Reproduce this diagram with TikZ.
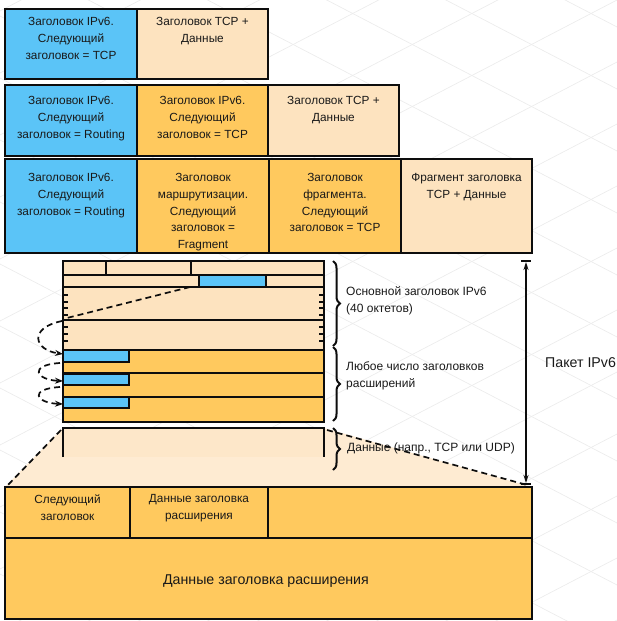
\documentclass[tikz,border=0pt]{standalone}
\usepackage{fontspec}
\setmainfont{Liberation Sans}
\usetikzlibrary{arrows.meta,decorations.pathreplacing}
\definecolor{blueC}{RGB}{91,196,247}
\definecolor{orangeC}{RGB}{255,201,94}
\definecolor{peachC}{RGB}{253,227,191}
\definecolor{txtC}{RGB}{25,25,25}
\definecolor{gridC}{RGB}{236,236,236}
\tikzset{
  cellbox/.style={draw=black!95,line width=1.8},
  thinbox/.style={draw=black!95,line width=1.4},
  celltext/.style={anchor=north,align=center,inner sep=0,text=txtC,font=\fontsize{11.8}{16.8}\selectfont},
  sidetext/.style={anchor=north west,align=left,inner sep=0,text=txtC,font=\fontsize{12}{16.5}\selectfont},
  bigtext/.style={inner sep=0,text=txtC,font=\fontsize{14.2}{17}\selectfont},
  dashline/.style={black!95,line width=1.7,dash pattern=on 6pt off 4pt},
  curvearrow/.style={dashline,-{Stealth[length=8pt,width=6pt]}},
  bracestyle/.style={black!95,line width=2,decorate,decoration={brace,amplitude=7pt}},
  tickline/.style={black!95,line width=1.3}
}
\begin{document}
\begin{tikzpicture}[x=1pt,y=-1pt]
\useasboundingbox (0,0) rectangle (617,621);
% faint background grid
\begin{scope}
\clip (0,0) rectangle (617,621);
\foreach \k in {-6,...,16}{
  \draw[gridC,line width=0.7] (0,-170+62*\k) -- (617,151+62*\k);
  \draw[gridC,line width=0.7] (0,321+62*\k) -- (617,0+62*\k);
}
\end{scope}
% ---------- row 1
\draw[cellbox,fill=blueC] (5,9) rectangle (137,79);
\draw[cellbox,fill=peachC] (137,9) rectangle (268,79);
\node[celltext] (r1a) at (71,17) {Заголовок IPv6.\\Следующий\\заголовок = TCP};
\node[celltext] (r1b) at (202.5,17) {Заголовок TCP +\\Данные};
% ---------- row 2
\draw[cellbox,fill=blueC] (5,85) rectangle (137,156);
\draw[cellbox,fill=orangeC] (137,85) rectangle (268,156);
\draw[cellbox,fill=peachC] (268,85) rectangle (399,156);
\node[celltext] (r2a) at (71,96) {Заголовок IPv6.\\Следующий\\заголовок = Routing};
\node[celltext] (r2b) at (202.5,96) {Заголовок IPv6.\\Следующий\\заголовок = TCP};
\node[celltext] (r2c) at (333.5,96) {Заголовок TCP +\\Данные};
% ---------- row 3
\draw[cellbox,fill=blueC] (5,159) rectangle (137,253);
\draw[cellbox,fill=orangeC] (137,159) rectangle (269,253);
\draw[cellbox,fill=orangeC] (269,159) rectangle (401,253);
\draw[cellbox,fill=peachC] (401,159) rectangle (532,253);
\node[celltext] (r3a) at (71,173) {Заголовок IPv6.\\Следующий\\заголовок = Routing};
\node[celltext] (r3b) at (203,173) {Заголовок\\маршрутизации.\\Следующий\\заголовок =\\Fragment};
\node[celltext] (r3c) at (335,173) {Заголовок\\фрагмента.\\Следующий\\заголовок = TCP};
\node[celltext] (r3d) at (466.5,173) {Фрагмент заголовка\\TCP + Данные};
% ---------- packet
\fill[peachC!70] (63,428) -- (324,428) -- (532,487) -- (5,487) -- cycle;
\draw[thinbox,fill=peachC] (63,261) rectangle (324,275);
\draw[thinbox] (106,261) -- (106,275) (191,261) -- (191,275);
\draw[thinbox,fill=peachC] (63,275) rectangle (324,287);
\draw[thinbox,fill=blueC] (199,275) rectangle (266,287);
\draw[thinbox,fill=peachC] (63,287) rectangle (324,320);
\draw[thinbox,fill=peachC] (63,320) rectangle (324,350);
\foreach \yy in {295,302,308,315,327,334,341}{
  \draw[tickline] (63,\yy) -- (68,\yy);
  \draw[tickline] (319,\yy) -- (324,\yy);
}
\draw[thinbox,fill=orangeC] (63,350) rectangle (324,373);
\draw[thinbox,fill=orangeC] (63,373) rectangle (324,397);
\draw[thinbox,fill=orangeC] (63,397) rectangle (324,422);
\draw[thinbox,fill=blueC] (63,350) rectangle (129,362);
\draw[thinbox,fill=blueC] (63,374) rectangle (129,385);
\draw[thinbox,fill=blueC] (63,397) rectangle (129,408);
% data box
\fill[peachC!85] (63,428) rectangle (324,457);
\draw[thinbox,line width=1.7] (63,457) -- (63,428) -- (324,428) -- (324,457);
% coordinates for connectors
\coordinate (nhB) at (190,287);
\coordinate (leftA) at (63,319);
\coordinate (c1s) at (62,321);
\coordinate (c1e) at (63,354);
\coordinate (c2s) at (60,363);
\coordinate (c2e) at (63,381);
\coordinate (c3s) at (60,387);
\coordinate (c3e) at (63,404);
\coordinate (dl) at (61,430);
\coordinate (dr) at (327,430);
\coordinate (bl) at (6,487);
\coordinate (br) at (527,485);
\draw[dashline] (nhB) -- (leftA);
\draw[curvearrow] (c1s) .. controls (28,328) and (34,350) .. (c1e);
\draw[curvearrow] (c2s) .. controls (28,365) and (36,380) .. (c2e);
\draw[curvearrow] (c3s) .. controls (28,389) and (36,403) .. (c3e);
\draw[dashline] (dl) -- (bl);
\draw[dashline] (dr) -- (br);
% braces
\coordinate (b1t) at (333,261);
\coordinate (b1b) at (333,346);
\coordinate (b2t) at (333,347);
\coordinate (b2b) at (333,421);
\coordinate (b3t) at (333,428);
\coordinate (b3b) at (333,470);
\draw[bracestyle] (b1t) -- (b1b);
\draw[bracestyle] (b2t) -- (b2b);
\draw[bracestyle] (b3t) -- (b3b);
\node[sidetext] (lab1) at (346,286.5) {Основной заголовок IPv6\\(40 октетов)};
\node[sidetext] (lab2) at (346,361.5) {Любое число заголовков\\расширений};
\node[sidetext,anchor=west] (lab3) at (347,448) {Данные (напр., TCP или UDP)};
% packet arrow
\coordinate (pt) at (526,262);
\coordinate (pb) at (526,483);
\draw[tickline,line width=1.6] (521,261) -- (531,261);
\draw[tickline,line width=1.6] (521,484) -- (531,484);
\draw[black!95,line width=1.5,{Stealth[length=8pt,width=5pt]}-{Stealth[length=8pt,width=5pt]}] (pt) -- (pb);
\node[bigtext,anchor=west] (pkt) at (545,363) {Пакет IPv6};
% ---------- bottom extension header
\draw[cellbox,fill=orangeC] (5,487) rectangle (532,619);
\draw[cellbox] (5,538) -- (532,538);
\draw[cellbox] (130,487) -- (130,538) (268,487) -- (268,538);
\node[celltext] (e1) at (67.5,494.5) {Следующий\\заголовок};
\node[celltext] (e2) at (199,494.5) {Данные заголовка\\расширения};
\node[bigtext] (e3) at (266,581) {Данные заголовка расширения};
\end{tikzpicture}
\end{document}
